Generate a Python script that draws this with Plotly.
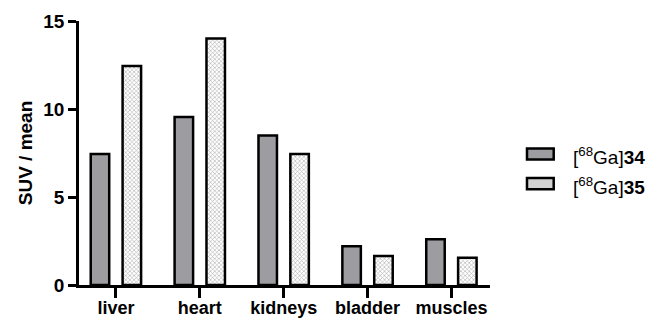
import plotly.graph_objects as go

categories = ["liver", "heart", "kidneys", "bladder", "muscles"]
ga34 = [7.45, 9.55, 8.5, 2.2, 2.6]
ga35 = [12.45, 14.0, 7.45, 1.65, 1.55]
series_names = ["[<sup>68</sup>Ga]<b>34</b>", "[<sup>68</sup>Ga]<b>35</b>"]
yticks = [0, 5, 10, 15]

FONT = "Liberation Sans"
DARK = "#9d9ca1"

fig = go.Figure()
fig.add_trace(go.Bar(
    x=categories, y=ga34, name=series_names[0], showlegend=False,
    marker=dict(color=DARK, line=dict(color="black", width=2.5)),
))
fig.add_trace(go.Bar(
    x=categories, y=ga35, name=series_names[1], showlegend=False,
    marker=dict(color="white", line=dict(color="black", width=2.5),
                pattern=dict(shape="x", size=3, solidity=0.35,
                             fgcolor="#a8a8a8", bgcolor="white", fillmode="replace")),
))

# legend drawn as boxes + labels (paper coordinates)
legend_rows = [(0.496, DARK), (0.384, "#d2d2d2")]
for (yc, col), name in zip(legend_rows, series_names):
    fig.add_shape(type="rect", xref="paper", yref="paper",
                  x0=1.090, x1=1.155, y0=yc - 0.021, y1=yc + 0.021,
                  fillcolor=col, line=dict(color="black", width=2.5))
    fig.add_annotation(x=1.197, y=yc - 0.008, xref="paper", yref="paper",
                       xanchor="left", yanchor="middle", showarrow=False,
                       text=name, font=dict(family=FONT, size=19, color="black"))

# page has an 8px body margin: figure is drawn at (8, 8) inside the 660x320 window
fig.update_layout(
    width=652, height=312,
    margin=dict(l=71, r=170, t=13, b=35),
    paper_bgcolor="white", plot_bgcolor="white",
    barmode="group", bargap=0.24, bargroupgap=0.42,
    font=dict(family=FONT, color="black"),
    showlegend=False,
    xaxis=dict(
        range=[-0.44, 4.46], showline=True, linecolor="black", linewidth=2.5,
        ticks="outside", ticklen=10, tickwidth=2.5, tickcolor="black",
        tickfont=dict(family=FONT, size=18, color="black", weight="bold"),
        ticklabelstandoff=-5,
        showgrid=False, zeroline=False, automargin=False,
    ),
    yaxis=dict(
        range=[0, 15], tickvals=yticks, showline=True, linecolor="black", linewidth=2.5,
        ticks="outside", ticklen=8, tickwidth=2.5, tickcolor="black",
        tickfont=dict(family=FONT, size=19, color="black", weight="bold"),
        title=dict(text="SUV / mean", font=dict(family=FONT, size=19, color="black", weight="bold"),
                   standoff=6),
        showgrid=False, zeroline=False, automargin=False,
    ),
)

fig.write_html("out.html")
